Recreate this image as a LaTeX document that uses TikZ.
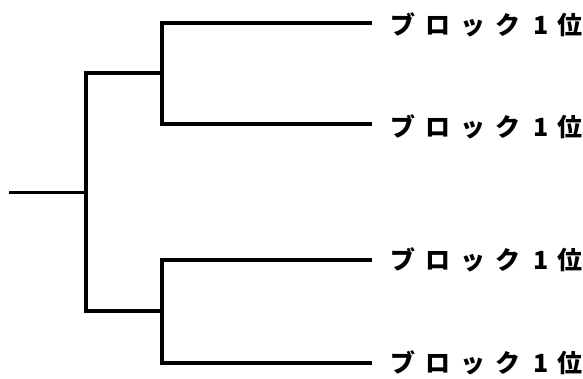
\documentclass[tikz,border=0pt]{standalone}
\usepackage{fontspec}
\newfontfamily\jp{Noto Sans CJK JP}
\newcommand\ch[1]{\makebox[0pt]{#1}}
\newcommand\blocklabel{\jp\bfseries\fontsize{25pt}{29pt}\selectfont\ch{ブ}\hspace{34.7pt}\ch{ロ}\hspace{35.8pt}\ch{ッ}\hspace{34.7pt}\ch{ク}\hspace{32.8pt}\ch{1}\hspace{29.4pt}\ch{位}}
\tikzset{
  bracket/.style={line width=3.5pt, line join=miter},
  rootline/.style={line width=3pt},
  leaflabel/.style={anchor=base west, inner sep=0pt}
}
\begin{document}
\begin{tikzpicture}[x=1pt,y=-1pt]
\useasboundingbox (0,0) rectangle (583,378);
% leaf ends
\coordinate (e1) at (372,23);
\coordinate (e2) at (372,124);
\coordinate (e3) at (372,260);
\coordinate (e4) at (372,363);
% junctions
\coordinate (b1) at (162,73);
\coordinate (b2) at (162,311);
\coordinate (c) at (86,192);
\coordinate (r) at (9,192);
% labels
\node[leaflabel] (l1) at (402.8,34.2) {\blocklabel};
\node[leaflabel] (l2) at (402.8,136.2) {\blocklabel};
\node[leaflabel] (l3) at (402.8,269.2) {\blocklabel};
\node[leaflabel] (l4) at (402.8,372.2) {\blocklabel};
% bracket lines
\draw[bracket] (e1) -| (b1) |- (e2);
\draw[bracket] (e3) -| (b2) |- (e4);
\draw[bracket] (b1) -| (c) |- (b2);
\draw[rootline] (r) -- (c);
\end{tikzpicture}
\end{document}
